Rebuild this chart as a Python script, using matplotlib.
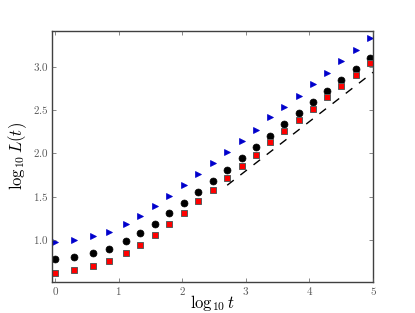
import matplotlib
matplotlib.use("Agg")
import matplotlib.pyplot as plt

plt.style.use("classic")
plt.rcParams["font.family"] = "serif"
plt.rcParams["font.serif"] = ["cmr10", "DejaVu Serif"]
plt.rcParams["mathtext.fontset"] = "cm"
plt.rcParams["axes.formatter.use_mathtext"] = True

# log10 t sample points
log_t = [0.0, 0.301, 0.602, 0.845, 1.114, 1.342, 1.568, 1.799, 2.021, 2.250, 2.477,
         2.706, 2.932, 3.155, 3.380, 3.605, 3.829, 4.055, 4.277, 4.503, 4.725, 4.953]

# three series of log10 L(t)
L_tri = [0.977, 1.0, 1.05, 1.10, 1.19, 1.28, 1.395, 1.509, 1.637, 1.764, 1.89,
         2.017, 2.144, 2.275, 2.414, 2.540, 2.667, 2.797, 2.927, 3.062, 3.192, 3.324]
L_circ = [0.78, 0.81, 0.854, 0.904, 0.99, 1.09, 1.19, 1.311, 1.434, 1.561, 1.688,
          1.815, 1.945, 2.075, 2.205, 2.336, 2.463, 2.590, 2.717, 2.84, 2.97, 3.10]
L_sq = [0.628, 0.654, 0.70, 0.758, 0.854, 0.95, 1.06, 1.188, 1.319, 1.449, 1.584,
        1.718, 1.853, 1.987, 2.127, 2.256, 2.382, 2.517, 2.647, 2.778, 2.904, 3.036]

# reference slope line
ref_x = [2.706, 5.0]
ref_y = [1.634, 2.935]

fig = plt.figure(figsize=(4.15, 3.13), dpi=100)
ax = fig.add_axes([0.125, 0.099, 0.774, 0.802])

ax.plot(log_t, L_tri, ">", color="#0000cc", ms=5, mec="#0000cc", mew=0.5)
ax.plot(log_t, L_circ, "o", color="k", ms=5)
ax.plot(log_t, L_sq, "s", color="r", ms=4.6, mec="0.35", mew=0.7)
ax.plot(ref_x, ref_y, "k--", lw=1)

ax.set_xlim(-0.05, 5)
ax.set_ylim(0.52, 3.41)
ax.set_xticks([0, 1, 2, 3, 4, 5])
ax.set_yticks([1.0, 1.5, 2.0, 2.5, 3.0])
ax.tick_params(labelsize=8, colors="0.35", pad=2, length=3)
for s in ax.spines.values():
    s.set_color("0.25")
ax.set_xlabel(r"$\log_{10} t$", fontsize=12, labelpad=-3)
ax.set_ylabel(r"$\log_{10} L(t)$", fontsize=12, labelpad=3)

fig.savefig("out.png", dpi=100)
